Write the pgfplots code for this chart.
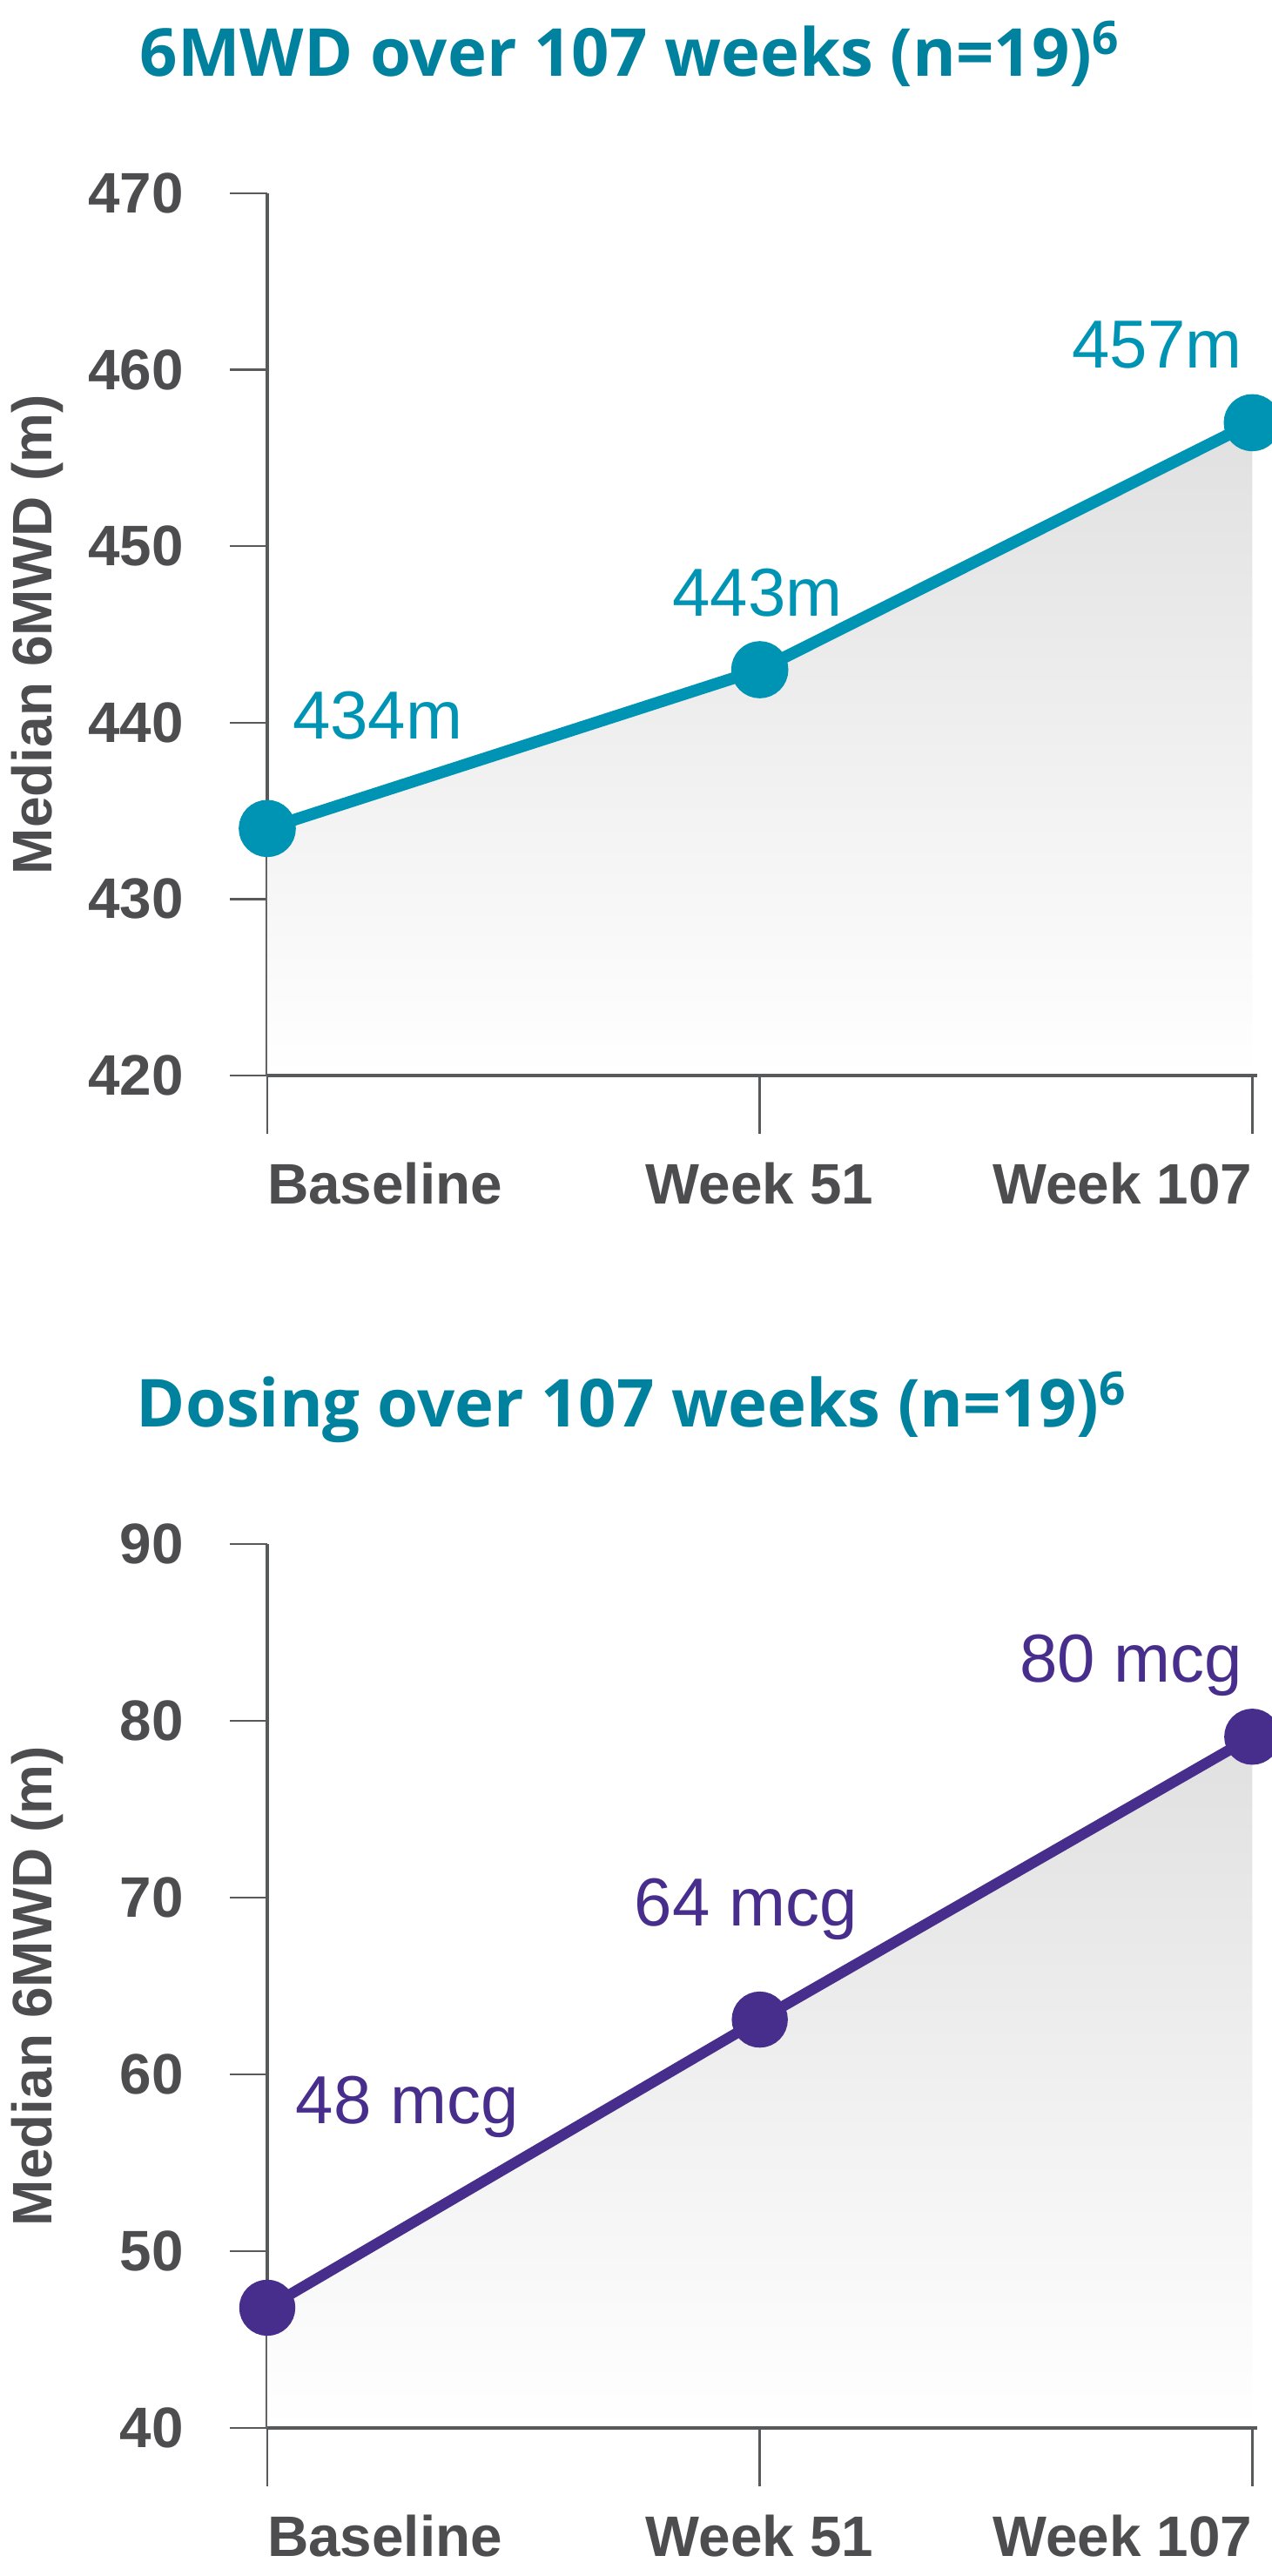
\documentclass[border=0pt]{standalone}
\usepackage{fontspec}
\setmainfont{Liberation Sans}
\newfontfamily\titlefont{Open Sans}
\usepackage{pgfplots}
\pgfplotsset{compat=1.18}
\definecolor{axgray}{HTML}{58595B}
\definecolor{txtgray}{HTML}{4D4D4F}
\definecolor{titleteal}{HTML}{00819E}
\definecolor{lineteal}{HTML}{0094B4}
\definecolor{linepurple}{HTML}{472D8C}

\pgfplotsset{
 mychart/.style={
  scale only axis, width=284.25pt,
  xmin=0, xmax=2.01,
  axis lines=left,
  x axis line style={line width=1.2pt, color=axgray, -},
  y axis line style={line width=1.2pt, color=axgray, -},
  tick align=outside, tick pos=left,
  xtick=\empty,
  major tick length=10.75pt,
  ytick style={line width=0.6pt, color=axgray},
  yticklabel style={font=\fontsize{16.4}{18}\selectfont\bfseries, text=txtgray, xshift=-9.75pt},
  /pgf/number format/assume math mode=true,
  ylabel={Median 6MWD (m)},
  every axis y label/.style={at={(axis description cs:-0.232,0.5)}, rotate=90, anchor=center,
     font=\fontsize{16}{18}\selectfont\bfseries, text=txtgray},
  clip=false,
 },
 xover/.style={
  scale only axis, width=284.25pt,
  xmin=0, xmax=2.01,
  axis x line*=bottom, axis y line=none,
  x axis line style={line width=1.2pt, color=axgray, -},
  tick align=outside,
  xtick={0,1,2},
  xticklabels={\makebox[0pt][l]{Baseline},Week 51,\makebox[0pt][r]{Week 107}},
  major tick length=16.75pt,
  xtick style={line width=0.6pt, color=axgray},
  xticklabel style={font=\fontsize{16.4}{18}\selectfont\bfseries, text=txtgray, yshift=-4.7pt},
 },
}
\tikzset{datalab/.style={anchor=base, font=\fontsize{19.5}{22}\selectfont}}

\begin{document}
\begin{tikzpicture}
\useasboundingbox (0,0) rectangle (365pt,739.5pt);

\node[anchor=base west, font=\titlefont\bfseries\fontsize{19}{22}\selectfont, text=titleteal, inner sep=0pt]
  at (40pt,717.5pt) {6MWD over 107 weeks (n=19)\textsuperscript{6}};

\begin{axis}[mychart, at={(76.75pt,430.75pt)}, anchor=south west,
  height=253.25pt, ymin=420, ymax=470, ytick={420,430,...,470}]
\addplot[draw=none, top color=black!12, bottom color=white] coordinates {(0,434) (1,443) (2,457)} \closedcycle;
\addplot[color=lineteal, line width=3.4pt, mark=*, mark size=6.5pt, mark options={solid, fill=lineteal}]
  coordinates {(0,434) (1,443) (2,457)};
\node[datalab, text=lineteal] at (axis cs:0.224,439.1) {434m};
\node[datalab, text=lineteal] at (axis cs:0.995,446.06) {443m};
\node[datalab, text=lineteal] at (axis cs:1.807,460.08) {457m};
\end{axis}
\begin{axis}[xover, at={(76.75pt,430.75pt)}, anchor=south west,
  height=253.25pt, ymin=420, ymax=470]
\end{axis}

\node[anchor=base west, font=\titlefont\bfseries\fontsize{19}{22}\selectfont, text=titleteal, inner sep=0pt]
  at (39pt,329.75pt) {Dosing over 107 weeks (n=19)\textsuperscript{6}};

\begin{axis}[mychart, at={(76.75pt,42.5pt)}, anchor=south west,
  height=253.75pt, ymin=40, ymax=90, ytick={40,50,...,90}]
\addplot[draw=none, top color=black!12, bottom color=white] coordinates {(0,46.8) (1,63.1) (2,79.1)} \closedcycle;
\addplot[color=linepurple, line width=3.1pt, mark=*, mark size=6.5pt, mark options={solid, fill=linepurple}]
  coordinates {(0,46.8) (1,63.1) (2,79.1)};
\node[datalab, text=linepurple] at (axis cs:0.284,57.2) {48 mcg};
\node[datalab, text=linepurple] at (axis cs:0.972,68.4) {64 mcg};
\node[datalab, text=linepurple] at (axis cs:1.754,82.2) {80 mcg};
\end{axis}
\begin{axis}[xover, at={(76.75pt,42.5pt)}, anchor=south west,
  height=253.75pt, ymin=40, ymax=90]
\end{axis}
\end{tikzpicture}
\end{document}
